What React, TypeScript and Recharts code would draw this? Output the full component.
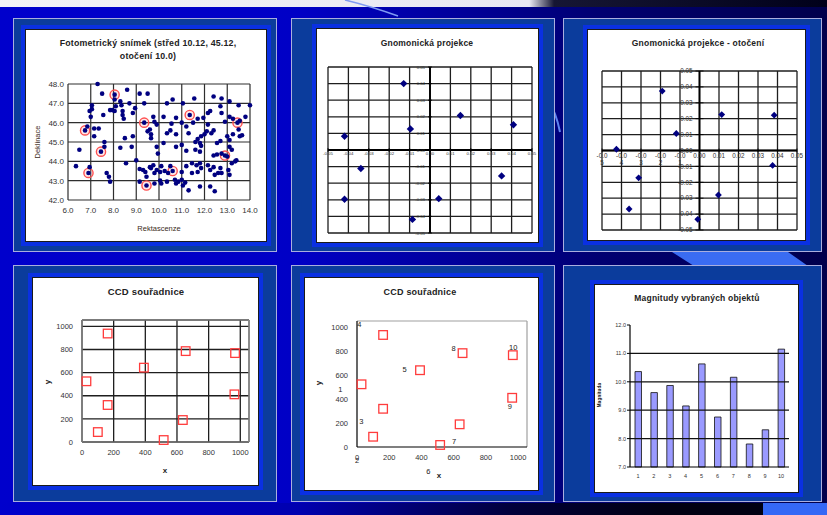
import React from "react";
import {
  ScatterChart,
  Scatter,
  XAxis,
  YAxis,
  CartesianGrid,
  ReferenceLine,
  ReferenceDot,
  BarChart,
  Bar,
} from "recharts";

const FONT = '"Liberation Sans", Arial, Helvetica, sans-serif';

// ---------------- data ----------------
// Panel 1: photometric frame (RA, Dec)
const P1_STARS: number[][] = [
  [7.3, 48.0], [7.5, 47.5], [8.05, 47.45], [8.6, 47.7], [9.15, 47.5], [9.5, 47.5], [9.35, 47.0], [10.35, 47.0],
  [10.6, 47.2], [11.05, 47.0], [11.55, 47.25], [12.4, 47.35], [12.75, 47.25], [13.1, 47.1], [13.5, 46.9], [14.0, 46.9],
  [7.05, 46.9], [7.05, 46.7], [6.95, 46.6], [7.0, 46.3], [6.85, 45.8], [6.75, 45.6],
  [7.15, 45.7], [7.35, 45.7], [7.15, 45.3], [7.55, 46.4], [7.6, 45.0],
  [7.85, 46.65], [8.05, 47.2], [8.1, 46.85], [8.3, 47.1], [8.35, 46.9], [8.4, 46.6], [8.4, 46.4], [8.45, 46.2],
  [8.05, 46.6], [7.95, 46.65], [8.7, 47.0], [8.85, 46.5], [8.95, 46.75],
  [8.5, 45.2], [8.85, 45.3], [8.8, 44.75], [8.3, 44.7], [8.55, 43.9], [9.0, 44.05], [9.35, 46.0],
  [9.75, 46.3], [9.8, 46.05], [9.9, 45.9], [9.6, 45.65], [9.65, 45.4], [9.65, 45.2], [9.5, 45.55],
  [10.2, 46.3], [10.55, 45.95], [10.75, 46.25], [11.0, 46.0],
  [9.9, 44.75], [9.95, 44.4], [10.2, 44.95], [10.35, 45.45], [10.5, 45.6], [10.75, 45.4], [10.75, 44.75], [11.0, 44.85],
  [11.35, 46.4], [11.5, 46.0], [11.7, 46.2], [11.95, 46.25], [12.15, 46.5], [12.25, 46.6], [12.15, 45.9], [12.1, 45.55],
  [11.2, 45.8], [11.3, 45.45],
  [11.6, 45.0], [11.7, 45.15], [11.8, 44.95], [11.85, 45.3], [11.85, 44.8], [12.0, 45.4], [12.3, 45.45], [12.4, 45.6],
  [11.6, 44.6], [11.8, 44.5], [11.2, 44.55],
  [12.7, 46.85], [12.75, 46.5], [12.9, 46.05], [13.1, 46.3], [13.25, 46.2], [13.55, 46.1], [13.8, 46.3], [13.45, 46.0],
  [12.55, 44.95], [12.7, 45.05], [13.0, 45.3], [13.1, 45.1], [13.25, 45.4], [13.5, 45.65], [13.55, 45.3], [13.65, 45.35],
  [12.9, 44.3], [12.75, 44.4], [13.0, 44.25], [13.1, 44.75], [13.2, 44.6], [12.55, 44.35], [12.4, 44.3],
  [6.5, 44.6], [7.45, 44.5], [7.6, 44.75],
  [6.35, 43.75], [6.9, 43.4], [6.95, 43.7], [7.7, 43.4], [7.8, 43.2], [7.85, 42.95],
  [9.3, 43.55], [9.4, 43.45], [9.45, 43.2], [9.6, 43.7], [9.65, 43.65], [9.75, 43.8], [9.8, 43.4], [9.9, 43.55],
  [10.05, 43.45], [10.1, 43.75], [10.25, 43.5], [10.4, 43.4], [10.5, 43.75], [10.6, 43.5], [10.7, 43.05],
  [10.75, 42.85], [10.85, 42.95], [11.0, 43.05], [11.15, 42.9],
  [11.0, 43.45], [11.2, 43.75], [11.45, 43.4], [11.45, 43.9], [11.65, 43.8], [11.7, 43.45], [11.8, 43.9], [11.85, 43.65],
  [12.15, 43.8], [12.25, 43.55], [12.4, 43.7], [12.45, 43.3], [12.6, 43.4], [12.7, 43.65], [12.75, 43.4], [13.05, 43.55],
  [13.1, 43.3], [13.2, 43.9], [13.35, 44.0], [13.4, 44.05],
  [9.15, 42.95], [9.45, 42.75], [9.8, 42.85], [10.1, 42.85], [11.05, 42.75], [11.3, 42.5], [11.8, 42.7], [12.25, 42.7],
  [12.45, 42.45], [10.05, 43.0], [10.35, 42.95], [9.15, 43.6],
];
const P1_SELECTED: number[][] = [
  [6.75, 45.6], [7.45, 44.5], [6.9, 43.4], [8.05, 47.45], [9.35, 46.0],
  [9.45, 42.75], [10.6, 43.5], [11.35, 46.4], [12.9, 44.3], [13.45, 46.0],
];
const P1_X_TICKS = [6, 7, 8, 9, 10, 11, 12, 13, 14];
const P1_Y_TICKS = [42, 43, 44, 45, 46, 47, 48];

// Panel 2: gnomonic projection
const P2_X = [-0.0129, -0.0419, -0.0096, 0.0149, 0.0409, -0.0339, -0.0419, 0.0043, 0.0351, -0.0086];
const P2_Y = [0.04, 0.0083, 0.0127, 0.0208, 0.0152, -0.0111, -0.0297, -0.0293, -0.0156, -0.0418];

// Panel 3: gnomonic projection - rotated
const P3_X = [-0.0426, -0.0191, -0.0119, 0.0114, 0.0383, -0.0312, -0.0361, 0.0097, 0.0375, -0.0009];
const P3_Y = [0.0008, 0.0374, 0.0107, 0.0226, 0.0222, -0.0172, -0.0368, -0.028, -0.0094, -0.0433];

const GN_TICKS = [-0.05, -0.04, -0.03, -0.02, -0.01, 0, 0.01, 0.02, 0.03, 0.04, 0.05];

// Panels 4/5: CCD coordinates
const CCD_X = [28, 100, 162, 162, 391, 516, 637, 655, 967, 963];
const CCD_Y = [525, 86, 320, 938, 643, 17, 190, 786, 769, 412];
const CCD_TICKS = [0, 200, 400, 600, 800, 1000];
const CCD_MAX = 1055;

// Panel 5 number labels
const P5_LABELS = ["1", "2", "3", "4", "5", "6", "7", "8", "9", "10"];
const P5_LABEL_X = [-104, 0, 27, 15, 295, 442, 602, 600, 948, 969];
const P5_LABEL_Y = [482, -112, 216, 1028, 650, -204, 48, 829, 342, 832];

// Panel 6: magnitudes
const P6_IDS = ["1", "2", "3", "4", "5", "6", "7", "8", "9", "10"];
const P6_MAG = [10.36, 9.62, 9.87, 9.15, 10.63, 8.76, 10.16, 7.81, 8.31, 11.15];
const P6_TICKS = [7, 8, 9, 10, 11, 12];
const P6_GRID = [8, 9, 10, 11];

// ---------------- helpers ----------------
const pairs = (a: number[][]) => a.map(([x, y]) => ({ x, y }));
const zipXY = (xs: number[], ys: number[]) => xs.map((x, i) => ({ x, y: ys[i] }));

const NavyDot = (p: any) => <circle cx={p.cx} cy={p.cy} r={2.3} fill="#000080" />;
const RedRing = (p: any) => (
  <circle cx={p.cx} cy={p.cy} r={4.6} fill="rgba(255,140,140,0.18)" stroke="#ff5050" strokeWidth={1.4} />
);
const diamond = (r: number) => (p: any) => (
  <polygon
    points={`${p.cx},${p.cy - r} ${p.cx + r},${p.cy} ${p.cx},${p.cy + r} ${p.cx - r},${p.cy}`}
    fill="#000080"
  />
);
const RedSquare = (p: any) => (
  <rect x={p.cx - 4.3} y={p.cy - 4.3} width={8.6} height={8.6} fill="none" stroke="#ff3c3c" strokeWidth={1.3} />
);

const fmt2 = (v: number) => (Math.abs(v) < 1e-9 ? "0.00" : v.toFixed(2));

const xTickShape = (label: string, fs: number, gap: number, wrap: boolean) => (p: any) => {
  const parts = wrap && label.length > 4 ? [label.slice(0, 4), label.slice(4)] : [label];
  return (
    <g>
      <line x1={p.cx} x2={p.cx} y1={p.cy - 2} y2={p.cy + 2} stroke="#000" strokeWidth={0.8} />
      <text x={p.cx} y={p.cy + gap} textAnchor="middle" fontSize={fs} fill="#333" fontFamily={FONT}>
        {parts.map((s, i) => (
          <tspan key={i} x={p.cx} dy={i === 0 ? "0.8em" : "1.15em"}>
            {s}
          </tspan>
        ))}
      </text>
    </g>
  );
};

const yTickShape = (label: string, fs: number, gap: number, tick: number) => (p: any) => (
  <g>
    <line x1={p.cx - tick} x2={p.cx + tick} y1={p.cy} y2={p.cy} stroke="#000" strokeWidth={0.8} />
    <text x={p.cx - gap} y={p.cy} dy="0.35em" textAnchor="end" fontSize={fs} fill="#333" fontFamily={FONT}>
      {label}
    </text>
  </g>
);

const textShape = (label: string, fs: number) => (p: any) => (
  <text x={p.cx} y={p.cy} dy="0.35em" textAnchor="middle" fontSize={fs} fill="#222" fontFamily={FONT}>
    {label}
  </text>
);

function Txt(props: { x: number; y: number; size: number; bold?: boolean; rot?: number; color?: string; children: any }) {
  const { x, y, size, bold, rot, color, children } = props;
  return (
    <div
      style={{
        position: "absolute",
        left: x,
        top: y,
        transform: `translate(-50%, -50%)${rot ? ` rotate(${rot}deg)` : ""}`,
        fontSize: size,
        fontWeight: bold ? 700 : 400,
        color: color || "#222",
        whiteSpace: "nowrap",
        fontFamily: FONT,
        lineHeight: 1,
        letterSpacing: bold ? 0.2 : 0,
      }}
    >
      {children}
    </div>
  );
}

function Frame(props: { o: number[]; w: number[]; children?: any }) {
  const [ox, oy, ow, oh] = props.o;
  const [wx, wy, ww, wh] = props.w;
  return (
    <>
      <div
        style={{
          position: "absolute",
          left: ox,
          top: oy,
          width: ow,
          height: oh,
          boxSizing: "border-box",
          border: "1px solid #a9aede",
          background: "#0b3c9c",
        }}
      />
      <div style={{ position: "absolute", left: wx - 5, top: wy - 5, width: ww + 10, height: wh + 10, background: "#0a30e2" }} />
      <div style={{ position: "absolute", left: wx - 1, top: wy - 1, width: ww + 2, height: wh + 2, background: "#1a1a1a" }} />
      <div style={{ position: "absolute", left: wx, top: wy, width: ww, height: wh, background: "#ffffff" }}>
        {props.children}
      </div>
    </>
  );
}

const tickStyle = (fs: number) => ({ fontSize: fs, fill: "#333", fontFamily: FONT });

// ---------------- charts ----------------
function Panel1() {
  return (
    <ScatterChart width={240} height={211} margin={{ top: 54, right: 16, bottom: 0, left: 0 }}>
      <CartesianGrid stroke="#2e2e2e" strokeWidth={1.2} />
      <XAxis
        type="number"
        dataKey="x"
        domain={[6, 14]}
        ticks={P1_X_TICKS}
        interval={0}
        height={41}
        tickLine={false}
        tickSize={4}
        tickMargin={3}
        axisLine={false}
        tick={tickStyle(8)}
        tickFormatter={(v: number) => v.toFixed(1)}
      />
      <YAxis
        type="number"
        dataKey="y"
        domain={[42, 48]}
        ticks={P1_Y_TICKS}
        interval={0}
        width={42}
        tickLine={false}
        tickSize={2}
        tickMargin={2}
        axisLine={false}
        tick={tickStyle(8)}
        tickFormatter={(v: number) => v.toFixed(1)}
      />
      <Scatter data={pairs(P1_SELECTED)} shape={RedRing} isAnimationActive={false} />
      <Scatter data={pairs(P1_STARS)} shape={NavyDot} isAnimationActive={false} />
    </ScatterChart>
  );
}

function Gnomonic(props: {
  w: number; h: number; margin: any; xs: number[]; ys: number[]; r: number;
  fs: number; xGap: number; yGap: number; yTick: number; wrap: boolean;
}) {
  const { w, h, margin, xs, ys, r, fs, xGap, yGap, yTick, wrap } = props;
  return (
    <ScatterChart width={w} height={h} margin={margin}>
      <CartesianGrid stroke="#1e1e1e" strokeWidth={1.3} />
      <XAxis type="number" dataKey="x" domain={[-0.05, 0.05]} ticks={GN_TICKS} interval={0} hide />
      <YAxis type="number" dataKey="y" domain={[-0.05, 0.05]} ticks={GN_TICKS} interval={0} hide />
      <ReferenceLine x={0} stroke="#000" strokeWidth={1.9} />
      <ReferenceLine y={0} stroke="#000" strokeWidth={1.9} />
      {GN_TICKS.map((t) => (
        <ReferenceDot key={"x" + t} x={t} y={0} r={0} ifOverflow="visible" shape={xTickShape(fmt2(t), fs, xGap, wrap)} />
      ))}
      {GN_TICKS.map((t) => (
        <ReferenceDot key={"y" + t} x={0} y={t} r={0} ifOverflow="visible" shape={yTickShape(fmt2(t), fs, yGap, yTick)} />
      ))}
      <Scatter data={zipXY(xs, ys)} shape={diamond(r)} isAnimationActive={false} />
    </ScatterChart>
  );
}

function CCD(props: { w: number; h: number; margin: any; yWidth: number; grid: boolean; labels: boolean }) {
  const { w, h, margin, yWidth, grid, labels } = props;
  const axisColor = grid ? "#8a8a8a" : "#000";
  return (
    <ScatterChart width={w} height={h} margin={margin}>
      {grid && <CartesianGrid stroke="#1e1e1e" strokeWidth={1.3} />}
      <XAxis
        type="number"
        dataKey="x"
        domain={[0, CCD_MAX]}
        ticks={CCD_TICKS}
        interval={0}
        height={43}
        tickLine={false}
        tickSize={6}
        tickMargin={2}
        axisLine={{ stroke: axisColor, strokeWidth: 1.2 }}
        tick={tickStyle(7.5)}
      />
      <YAxis
        type="number"
        dataKey="y"
        domain={[0, CCD_MAX]}
        ticks={CCD_TICKS}
        interval={0}
        width={yWidth}
        tickLine={false}
        tickSize={6}
        tickMargin={3}
        axisLine={{ stroke: axisColor, strokeWidth: 1.2 }}
        tick={tickStyle(7.5)}
      />
      <ReferenceLine x={CCD_MAX} stroke="#a0a0a0" strokeWidth={1.2} ifOverflow="visible" />
      <ReferenceLine y={CCD_MAX} stroke="#a0a0a0" strokeWidth={1.2} ifOverflow="visible" />
      <Scatter data={zipXY(CCD_X, CCD_Y)} shape={RedSquare} isAnimationActive={false} />
      {labels &&
        P5_LABELS.map((lab, i) => (
          <ReferenceDot
            key={"l" + lab}
            x={P5_LABEL_X[i]}
            y={P5_LABEL_Y[i]}
            r={0}
            ifOverflow="visible"
            shape={textShape(lab, 7.5)}
          />
        ))}
    </ScatterChart>
  );
}

function Panel6() {
  const data = P6_IDS.map((id, i) => ({ id, mag: P6_MAG[i] }));
  return (
    <BarChart width={203} height={207} data={data} margin={{ top: 40, right: 9, bottom: 0, left: 0 }}>
      <XAxis
        dataKey="id"
        height={25}
        interval={0}
        tickLine={false}
        tickSize={4}
        tickMargin={3}
        axisLine={{ stroke: "#000", strokeWidth: 1.2 }}
        tick={tickStyle(5.5)}
      />
      <YAxis
        type="number"
        domain={[7, 12]}
        ticks={P6_TICKS}
        interval={0}
        width={35}
        tickSize={3}
        tickMargin={1}
        tickLine={{ stroke: "#000" }}
        axisLine={{ stroke: "#000", strokeWidth: 1.2 }}
        tick={tickStyle(5.5)}
        tickFormatter={(v: number) => v.toFixed(1)}
      />
      {P6_GRID.map((v) => (
        <ReferenceLine key={"g" + v} y={v} stroke="#111" strokeWidth={1.3} />
      ))}
      <Bar dataKey="mag" fill="#9a9aff" stroke="#111" strokeWidth={0.8} barSize={6.5} isAnimationActive={false} />
    </BarChart>
  );
}

export default function App() {
  return (
    <div
      style={{
        position: "absolute",
        left: 0,
        top: 0,
        width: 827,
        height: 515,
        overflow: "hidden",
        fontFamily: FONT,
        background: "linear-gradient(90deg, #0000cc 0%, #0000c6 36%, #00009c 55%, #000072 72%, #00004c 100%)",
      }}
    >
      {/* slide decorations */}
      <div
        style={{
          position: "absolute",
          left: 0,
          top: 0,
          width: 827,
          height: 7,
          background: "linear-gradient(90deg, #f3f3f7 0%, #e8e8f2 64%, #161634 67%, #00001a 100%)",
        }}
      />
      <div
        style={{
          position: "absolute",
          left: 0,
          top: 503,
          width: 827,
          height: 12,
          background: "linear-gradient(90deg, #0000cc 0%, #0000b0 36%, #00003a 62%, #000012 80%)",
        }}
      />
      <div style={{ position: "absolute", left: 763, top: 503, width: 64, height: 12, background: "#3468f6" }} />
      <svg style={{ position: "absolute", left: 0, top: 0 }} width={827} height={515}>
        <polygon points="672,252 788,252 808,266 694,266" fill="#3a6cf2" />
        <path d="M345,0 Q370,6 398,16" stroke="#7f9af2" strokeWidth={1.5} fill="none" />
        <path d="M548,100 Q556,112 560,132" stroke="#5f86f0" strokeWidth={2} fill="none" />
      </svg>

      {/* Panel 1 */}
      <Frame o={[13, 18, 264, 234]} w={[26, 30, 240, 211]}>
        <Panel1 />
      </Frame>
      <Txt x={148} y={43} size={8.8} bold>
        Fotometrický snímek (střed 10.12, 45.12,
      </Txt>
      <Txt x={148} y={56} size={8.8} bold>
        otočení 10.0)
      </Txt>
      <Txt x={38} y={142} size={7.5} rot={-90} color="#3a2a1a">
        Deklinace
      </Txt>
      <Txt x={159} y={229} size={7.5} color="#3a2a1a">
        Rektascenze
      </Txt>

      {/* Panel 2 */}
      <Frame o={[291, 18, 264, 234]} w={[317, 29, 221, 213]}>
        <Gnomonic
          w={221}
          h={213}
          margin={{ top: 38, right: 6, bottom: 9, left: 11 }}
          xs={P2_X}
          ys={P2_Y}
          r={3.7}
          fs={4.3}
          xGap={2}
          yGap={5}
          yTick={2}
          wrap={false}
        />
      </Frame>
      <Txt x={427} y={43} size={8.5} bold>
        Gnomonická projekce
      </Txt>

      {/* Panel 3 */}
      <Frame o={[563, 18, 259, 234]} w={[588, 30, 217, 210]}>
        <Gnomonic
          w={217}
          h={210}
          margin={{ top: 41, right: 8, bottom: 10, left: 14 }}
          xs={P3_X}
          ys={P3_Y}
          r={3.4}
          fs={6.3}
          xGap={2}
          yGap={7}
          yTick={4}
          wrap={true}
        />
      </Frame>
      <Txt x={698} y={43} size={8.5} bold>
        Gnomonická projekce - otočení
      </Txt>

      {/* Panel 4 */}
      <Frame o={[13, 265, 264, 237]} w={[33, 278, 225, 207]}>
        <CCD w={225} h={207} margin={{ top: 42, right: 9, bottom: 0, left: 0 }} yWidth={49} grid={true} labels={false} />
      </Frame>
      <Txt x={146} y={292} size={9.5} bold>
        CCD souřadnice
      </Txt>
      <Txt x={48} y={382} size={8} bold rot={-90}>
        y
      </Txt>
      <Txt x={165} y={471} size={8} bold>
        x
      </Txt>

      {/* Panel 5 */}
      <Frame o={[291, 265, 264, 237]} w={[305, 278, 233, 212]}>
        <CCD w={233} h={212} margin={{ top: 43, right: 11, bottom: 0, left: 0 }} yWidth={52} grid={false} labels={true} />
      </Frame>
      <Txt x={420} y={292} size={9} bold>
        CCD souřadnice
      </Txt>
      <Txt x={319} y={383} size={8} bold rot={-90}>
        y
      </Txt>
      <Txt x={439} y={476} size={8} bold>
        x
      </Txt>

      {/* Panel 6 */}
      <Frame o={[563, 265, 259, 237]} w={[595, 285, 203, 207]}>
        <Panel6 />
      </Frame>
      <Txt x={697} y={298} size={8.5} bold>
        Magnitudy vybraných objektů
      </Txt>
      <Txt x={600} y={395} size={4.5} bold rot={-90}>
        Magnituda
      </Txt>
    </div>
  );
}
